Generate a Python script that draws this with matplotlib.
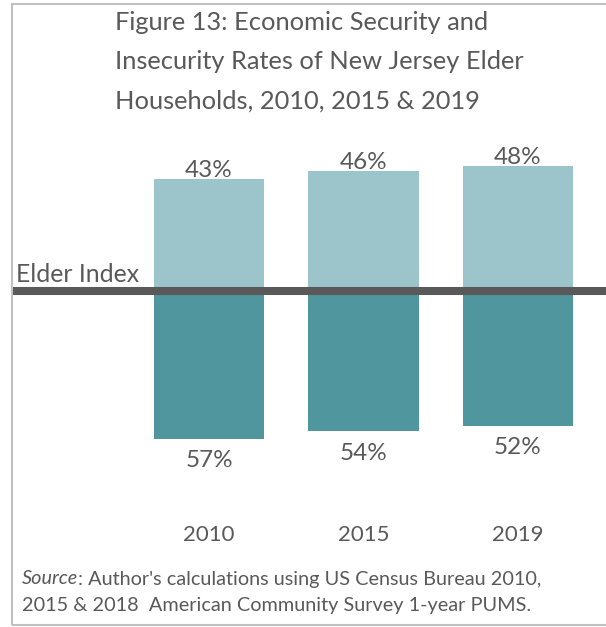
import matplotlib
matplotlib.use("Agg")
from matplotlib import pyplot as plt
from matplotlib import patches

years = ["2010", "2015", "2019"]
secure = [43, 46, 48]      # above the Elder Index
insecure = [57, 54, 52]    # below the Elder Index
title_lines = ["Figure 13: Economic Security and",
               "Insecurity Rates of New Jersey Elder",
               "Households, 2010, 2015 & 2019"]

light = "#9cc4cb"
dark = "#4f969e"
grey = "#595959"

plt.rcParams["font.family"] = ["Lato", "DejaVu Sans"]

W, H = 606, 627
fig = plt.figure(figsize=(W / 100, H / 100), dpi=100)

# axes placed so that the zero line sits at pixel row 291
ax = fig.add_axes([11 / W, 1 - 450 / H, (W - 11) / W, 300 / H])
ax.set_xlim((11 - 209) / 154.5, (606 - 209) / 154.5)
ax.set_ylim(-(450 - 291) / 2.6, (291 - 150) / 2.6)
ax.axis("off")

x = range(len(years))
ax.bar(x, secure, width=0.712, color=light)
ax.bar(x, [-v for v in insecure], width=0.712, color=dark)
ax.axhline(0, color=grey, lw=5.8, zorder=3)

for i in x:
    ax.annotate(f"{secure[i]}%", (i, secure[i]), xytext=(0, 1.5), textcoords="offset points",
                ha="center", va="baseline", fontsize=17.5, color=grey)
    ax.annotate(f"{insecure[i]}%", (i, -insecure[i]), xytext=(0, -8), textcoords="offset points",
                ha="center", va="top", fontsize=17.5, color=grey)
    ax.annotate(years[i], (i, 1 - 535 / H), xycoords=("data", "figure fraction"),
                ha="center", va="center", fontsize=16, color=grey)

ax.text(-1.25, 1.8, "Elder Index", ha="left", va="bottom", fontsize=17.8, color=grey)

for k, line in enumerate(title_lines):
    fig.text(115 / W, 1 - (22 + 39.5 * k) / H, line, ha="left", va="center",
             fontsize=18.3, color=grey)

# source note with italic "Source"
src_y = 1 - 579 / H
t = fig.text(22 / W, src_y, "Source", style="italic", ha="left", va="center",
             fontsize=14.3, color=grey)
fig.canvas.draw()
bb = t.get_window_extent()
fig.text(bb.x1 / W, src_y, ": Author's calculations using US Census Bureau 2010,",
         ha="left", va="center", fontsize=14.3, color=grey)
fig.text(22 / W, 1 - 606 / H, "2015 & 2018  American Community Survey 1-year PUMS.",
         ha="left", va="center", fontsize=14.3, color=grey)

border = patches.Rectangle((11.5 / W, 1 - 625 / H), 1.0, (625 - 3.5) / H,
                           transform=fig.transFigure, fill=False,
                           edgecolor="#c0c0c0", lw=1.5, clip_on=False)
fig.patches.append(border)

fig.savefig("out.png", dpi=100)
